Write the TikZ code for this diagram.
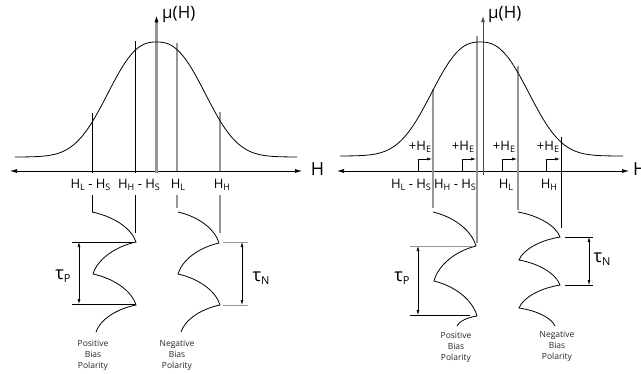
\documentclass[tikz,border=0pt]{standalone}
\usepackage{fontspec}
\setmainfont{Open Sans}
\usetikzlibrary{arrows.meta,calc}
\definecolor{lg}{RGB}{150,150,150}
\newcommand\subs[2][9]{\raisebox{-0.3ex}{\fontsize{#1}{#1}\selectfont #2}}
\begin{document}
\begin{tikzpicture}[x=1pt,y=-1pt,
  blk/.style={draw=black, line width=0.7pt},
  gry/.style={draw=lg, line width=1.3pt},
  curve/.style={draw=black, line width=0.8pt},
  lbl/.style={font=\fontsize{13}{15}\selectfont, inner sep=0pt},
  axlbl/.style={font=\fontsize{18}{20}\selectfont, inner sep=0pt},
  mulbl/.style={font=\fontsize{17}{19}\selectfont, inner sep=0pt, anchor=west},
  taulbl/.style={font=\fontsize{18}{20}\selectfont, inner sep=0pt},
  pol/.style={font=\fontsize{8.5}{11}\selectfont, align=center, inner sep=0pt, text=black!85},
  axboth/.style={{Latex[length=7pt,width=4pt]}-{Latex[length=7pt,width=4pt]}},
  dbl/.style={{Latex[length=5pt,width=3pt]}-{Latex[length=5pt,width=3pt]}, draw=black, line width=0.6pt},
  sh/.style={-{Latex[length=5pt,width=3pt]}, draw=black, line width=0.6pt},
  hseg/.style={to path={let \p1=(\tikztostart), \p2=(\tikztotarget) in
     .. controls ($(\p1)+({0.5*(\x2-\x1)},{0.15*(\y2-\y1)})$) and ($(\p2)-({0.1*(\x2-\x1)},{0.45*(\y2-\y1)})$) .. (\p2)}}
]
\useasboundingbox (0,0) rectangle (641,373);

% ===================== LEFT PANEL =====================
\coordinate (LaxL) at (10,171);
\coordinate (LaxR) at (302,171);
\draw[blk, axboth] (LaxL) -- (LaxR);
\node[axlbl] (LH) at (317.5,169) {H};

% vertical lines
\draw[blk] (92,113) -- (92,173);   \draw[blk] (92,195) -- (92,212);
\draw[blk] (135,41) -- (135,173);  \draw[blk] (135,195) -- (135,233);
\draw[gry] (177,43) -- (177,171);  \draw[gry] (177,195) -- (177,208);
\draw[gry] (220,112) -- (220,171); \draw[gry] (220,195) -- (220,233);

% mu axis
\coordinate (Lmu0) at (156.5,173);
\coordinate (Lmu1) at (156.5,16);
\draw[draw=lg, line width=2.2pt] (Lmu0) -- (156.5,21);
\draw[draw=black, line width=0.6pt, -{Latex[length=6pt,width=4pt]}] (156.5,22.5) -- (Lmu1);
\node[mulbl] (Lmu) at (162,14) {μ(H)};

% distribution curve
\draw[curve] plot[domain=15:297, samples=141, smooth] (\x, {157-115*exp(-pow(abs(\x-156.5)/60,2.5))});

% labels
\node[lbl] (l1) at (90.5,185) {H\subs{L} - H\subs{S}};
\node[lbl] (l2) at (139,185) {H\subs{H} - H\subs{S}};
\node[lbl] (l3) at (178,185) {H\subs{L}};
\node[lbl] (l4) at (222,185) {H\subs{H}};

% hysteresis positive
\draw[curve] (92,212) to[hseg] (136,242) to[hseg] (93,274) to[hseg] (136,305) to[hseg] (96,332);
% hysteresis negative
\draw[curve] (178,212) to[hseg] (219,243) to[hseg] (178,274) to[hseg] (220,305) to[hseg] (181,332);

% tau P
\draw[blk] (72,242) -- (135,242);
\draw[blk] (72,304) -- (135,304);
\draw[dbl] (79,242) -- (79,304);
\node[taulbl] (tP) at (63,276) {τ\subs[11]{P}};
% tau N
\draw[gry, line width=1pt] (223,242) -- (248,242);
\draw[gry, line width=1pt] (223,305) -- (248,305);
\draw[dbl] (242,242) -- (242,305);
\node[taulbl] (tN) at (261,278) {τ\subs[11]{N}};

\node[pol] (pl) at (93,355) {Positive\\Bias\\Polarity};
\node[pol] (nl) at (177,355) {Negative\\Bias\\Polarity};

% ===================== RIGHT PANEL =====================
\coordinate (RaxL) at (337,171);
\coordinate (RaxR) at (629,171);
\draw[blk, axboth] (RaxL) -- (RaxR);
\node[axlbl, anchor=west] (RH) at (633,169) {H};

\draw[gry] (433,89) -- (433,208);
\draw[gry] (477,36) -- (477,243);
\draw[gry] (518,66) -- (518,210);
\draw[blk] (561,137) -- (561,228);

\coordinate (Rmu0) at (483,175);
\coordinate (Rmu1) at (483,16);
\draw[draw=black!70, line width=0.9pt, -{Latex[length=6pt,width=4pt]}] (Rmu0) -- (Rmu1);
\node[mulbl] (Rmu) at (488,14) {μ(H)};

\draw[curve] plot[domain=340:623, samples=141, smooth] (\x, {156-114*exp(-pow(abs(\x-480.2)/60,2.5))});

% shift arrows
\foreach \a/\b/\c in {418/433/420, 462/477/463, 502/518/504, 546/561/548}{
  \draw[sh] (\a,171) -- (\a,159) -- (\b-1,159);
  \node[lbl] at (\c,147) {+H\subs{E}};
}

\node[lbl] (r1) at (411,185) {H\subs{L} - H\subs{S}};
\node[lbl] (r2) at (455,185) {H\subs{H} - H\subs{S}};
\node[lbl] (r3) at (506,185) {H\subs{L}};
\node[lbl] (r4) at (549,185) {H\subs{H}};

% hysteresis positive
\draw[curve] (433,212) to[hseg] (476,246) to[hseg] (434,281) to[hseg] (477,316) to[hseg] (457,326);
% hysteresis negative
\draw[curve] (518,212) to[hseg] (560,237) to[hseg] (519,260) to[hseg] (560,285) to[hseg] (519,308) to[hseg] (555,326);

% tau P
\draw[gry, line width=1pt] (410,246) -- (472,246);
\draw[blk] (410,315) -- (470,315);
\draw[dbl] (418,246) -- (418,315);
\node[taulbl] (tP2) at (402,278) {τ\subs[11]{P}};
% tau N
\draw[blk] (565,237) -- (593,237);
\draw[blk] (565,285) -- (593,285);
\draw[dbl] (589,237) -- (589,285);
\node[taulbl] (tN2) at (602,259) {τ\subs[11]{N}};

\node[pol] (pr) at (456,347) {Positive\\Bias\\Polarity};
\node[pol] (nr) at (557,346) {Negative\\Bias\\Polarity};
\end{tikzpicture}
\end{document}
